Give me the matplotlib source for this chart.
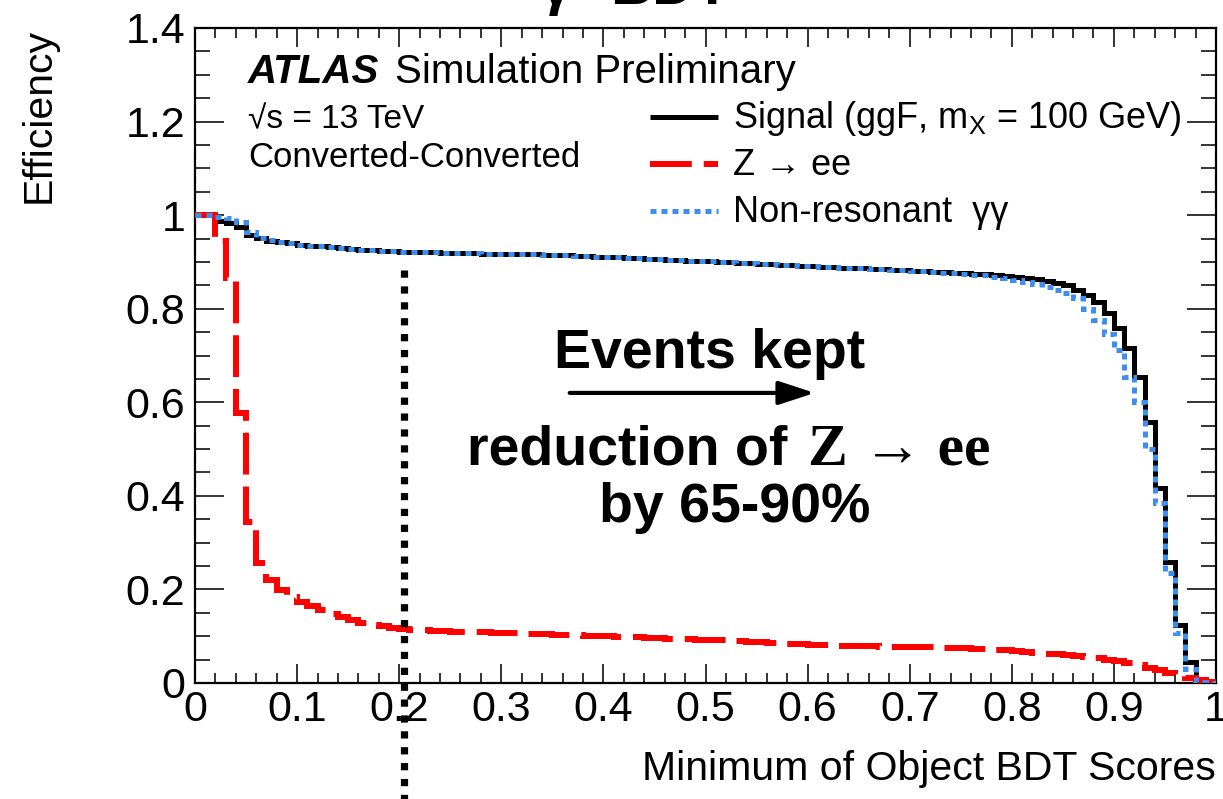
import numpy as np
import matplotlib
matplotlib.use("Agg")
import matplotlib.pyplot as plt
from matplotlib.lines import Line2D
from matplotlib.ticker import MultipleLocator, FuncFormatter

plt.rcParams['font.family'] = ['Liberation Sans', 'DejaVu Sans']
plt.rcParams['mathtext.fontset'] = 'custom'
plt.rcParams['mathtext.rm'] = 'Liberation Sans'
plt.rcParams['mathtext.it'] = 'Liberation Sans:italic'
plt.rcParams['mathtext.bf'] = 'Liberation Sans:bold'

# cumulative efficiency vs cut on min(object BDT score), 100 bins of 0.01
bin_edges = np.linspace(0.0, 1.0, 101)

eff_signal = [
    1.000, 1.000, 0.987, 0.984, 0.975, 0.957, 0.951, 0.945, 0.942, 0.940,
    0.937, 0.935, 0.933, 0.931, 0.929, 0.928, 0.926, 0.925, 0.924, 0.923,
    0.922, 0.922, 0.921, 0.921, 0.920, 0.920, 0.919, 0.919, 0.918, 0.918,
    0.917, 0.917, 0.916, 0.916, 0.915, 0.915, 0.914, 0.913, 0.912, 0.911,
    0.911, 0.910, 0.909, 0.908, 0.907, 0.906, 0.905, 0.904, 0.903, 0.902,
    0.901, 0.900, 0.899, 0.898, 0.897, 0.896, 0.895, 0.894, 0.893, 0.892,
    0.891, 0.890, 0.889, 0.888, 0.887, 0.886, 0.885, 0.884, 0.883, 0.882,
    0.881, 0.880, 0.879, 0.878, 0.877, 0.876, 0.875, 0.874, 0.872, 0.870,
    0.868, 0.866, 0.863, 0.860, 0.856, 0.850, 0.840, 0.829, 0.814, 0.791,
    0.759, 0.716, 0.654, 0.558, 0.417, 0.259, 0.124, 0.045, 0.005, 0.000,
]

eff_zee = [
    1.000, 1.000, 0.945, 0.866, 0.578, 0.344, 0.257, 0.220, 0.199, 0.184,
    0.173, 0.164, 0.156, 0.148, 0.141, 0.134, 0.128, 0.124, 0.121, 0.118,
    0.116, 0.114, 0.113, 0.112, 0.111, 0.110, 0.109, 0.108, 0.108, 0.107,
    0.107, 0.106, 0.105, 0.104, 0.104, 0.103, 0.102, 0.102, 0.101, 0.100,
    0.100, 0.099, 0.099, 0.098, 0.097, 0.096, 0.095, 0.094, 0.093, 0.092,
    0.092, 0.091, 0.090, 0.089, 0.088, 0.087, 0.086, 0.085, 0.084, 0.083,
    0.082, 0.082, 0.081, 0.080, 0.080, 0.079, 0.079, 0.078, 0.078, 0.077,
    0.077, 0.076, 0.076, 0.075, 0.075, 0.074, 0.073, 0.072, 0.071, 0.070,
    0.068, 0.067, 0.065, 0.063, 0.061, 0.059, 0.057, 0.055, 0.053, 0.050,
    0.046, 0.042, 0.038, 0.033, 0.027, 0.021, 0.015, 0.010, 0.006, 0.003,
]

eff_gamgam = [
    1.000, 1.000, 0.996, 0.993, 0.985, 0.964, 0.952, 0.946, 0.942, 0.940,
    0.937, 0.935, 0.933, 0.931, 0.929, 0.928, 0.926, 0.925, 0.924, 0.923,
    0.922, 0.922, 0.921, 0.921, 0.920, 0.920, 0.919, 0.919, 0.918, 0.918,
    0.917, 0.917, 0.916, 0.916, 0.915, 0.915, 0.914, 0.913, 0.912, 0.911,
    0.911, 0.910, 0.909, 0.908, 0.907, 0.906, 0.905, 0.904, 0.903, 0.902,
    0.901, 0.900, 0.899, 0.898, 0.897, 0.896, 0.895, 0.894, 0.893, 0.892,
    0.891, 0.890, 0.889, 0.888, 0.887, 0.886, 0.885, 0.884, 0.883, 0.882,
    0.881, 0.880, 0.879, 0.877, 0.876, 0.875, 0.873, 0.871, 0.868, 0.865,
    0.862, 0.858, 0.853, 0.847, 0.840, 0.833, 0.822, 0.800, 0.775, 0.745,
    0.712, 0.655, 0.600, 0.500, 0.385, 0.235, 0.107, 0.030, 0.003, 0.000,
]

bdt_cut = 0.205

labels = ['Signal (ggF, m$_{\\mathrm{X}}$ = 100 GeV)', 'Z \u2192 ee', 'Non-resonant  \u03b3\u03b3']

W, H = 1223, 799
fig = plt.figure(figsize=(W / 100, H / 100), dpi=100)
ax = fig.add_axes([195 / W, 1 - 683 / H, (1216 - 195) / W, (683 - 28) / H])

sig_style = dict(color='black', linewidth=3.6)
zee_style = dict(color='#ff0000', linewidth=4.3, linestyle=(0, (7, 2)))
gg_style = dict(color='#3d8ef0', linewidth=3.6, linestyle=(0, (1.2, 1.0)))

ax.stairs(eff_signal, bin_edges, baseline=None, zorder=3, **sig_style)
ax.stairs(eff_zee, bin_edges, baseline=None, zorder=4, **zee_style)
ax.stairs(eff_gamgam, bin_edges, baseline=None, zorder=5, **gg_style)

# cut line, runs down past the axis
ax.plot([bdt_cut, bdt_cut], [0.882, -0.25], color='black', lw=5.2,
        linestyle=(0, (1, 1.2)), dash_capstyle='butt', clip_on=False, zorder=6)

ax.set_xlim(0, 1)
ax.set_ylim(0, 1.4)
ax.xaxis.set_major_locator(MultipleLocator(0.1))
ax.xaxis.set_minor_locator(MultipleLocator(0.02))
ax.yaxis.set_major_locator(MultipleLocator(0.2))
ax.yaxis.set_minor_locator(MultipleLocator(0.05))
fmt = FuncFormatter(lambda v, p: '%g' % round(v, 2))
ax.xaxis.set_major_formatter(fmt)
ax.yaxis.set_major_formatter(fmt)
ax.tick_params(axis='both', which='both', direction='in', top=True, right=True,
               width=1.4, colors='#333333', labelcolor='black', labelsize=31)
ax.tick_params(axis='x', which='major', length=14, pad=5)
ax.tick_params(axis='x', which='minor', length=7)
ax.tick_params(axis='y', which='major', length=21, pad=7)
ax.tick_params(axis='y', which='minor', length=11)
for sp in ax.spines.values():
    sp.set_linewidth(1.6)

ax.set_ylabel('Efficiency', fontsize=29.5, loc='top')
ax.yaxis.set_label_coords(-0.135, 1.0)
ax.set_xlabel('Minimum of Object BDT Scores', fontsize=29.5, loc='right')
ax.xaxis.set_label_coords(1.0, -0.103)

# ATLAS label block
ax.text(0.052, 1.282, 'ATLAS', fontsize=29, fontweight='bold', fontstyle='italic')
ax.text(0.196, 1.282, 'Simulation Preliminary', fontsize=29)
ax.text(0.052, 1.186, '\u221as = 13 TeV', fontsize=24)
ax.text(0.052, 1.103, 'Converted-Converted', fontsize=25)

# legend
for i, (lab, st) in enumerate(zip(labels, [sig_style, zee_style, gg_style])):
    yl = 0.8641 - i * 0.0718
    ax.add_line(Line2D([0.4456, 0.5122], [yl, yl], transform=ax.transAxes,
                       solid_capstyle='butt', dash_capstyle='butt', **st))
    ax.text(0.5269, yl - 0.0168, lab, fontsize=26, transform=ax.transAxes)

# annotation
ax.text(0.504, 0.673, 'Events kept', fontsize=40, fontweight='bold', ha='center')
ax.annotate('', xy=(0.607, 0.620), xytext=(0.367, 0.620),
            arrowprops=dict(arrowstyle='-|>,head_length=0.55,head_width=0.18',
                            lw=3, color='black', mutation_scale=40,
                            shrinkA=0, shrinkB=0))
ax.text(0.266, 0.466, 'reduction of', fontsize=40, fontweight='bold')
ax.text(0.600, 0.466, 'Z \u2192 ee', fontsize=43, fontweight='bold',
        family=['Liberation Serif', 'DejaVu Serif'])
ax.text(0.529, 0.344, 'by 65-90%', fontsize=40, fontweight='bold', ha='center')

# page title, mostly above the frame
fig.text(556 / W, 1 - 4 / H, '\u03b3', fontsize=42, fontweight='bold', ha='center', va='baseline')
fig.text(610 / W, 1 - 4 / H, 'BDT', fontsize=42, fontweight='bold', ha='left', va='baseline')

fig.savefig('out.png', dpi=100)
